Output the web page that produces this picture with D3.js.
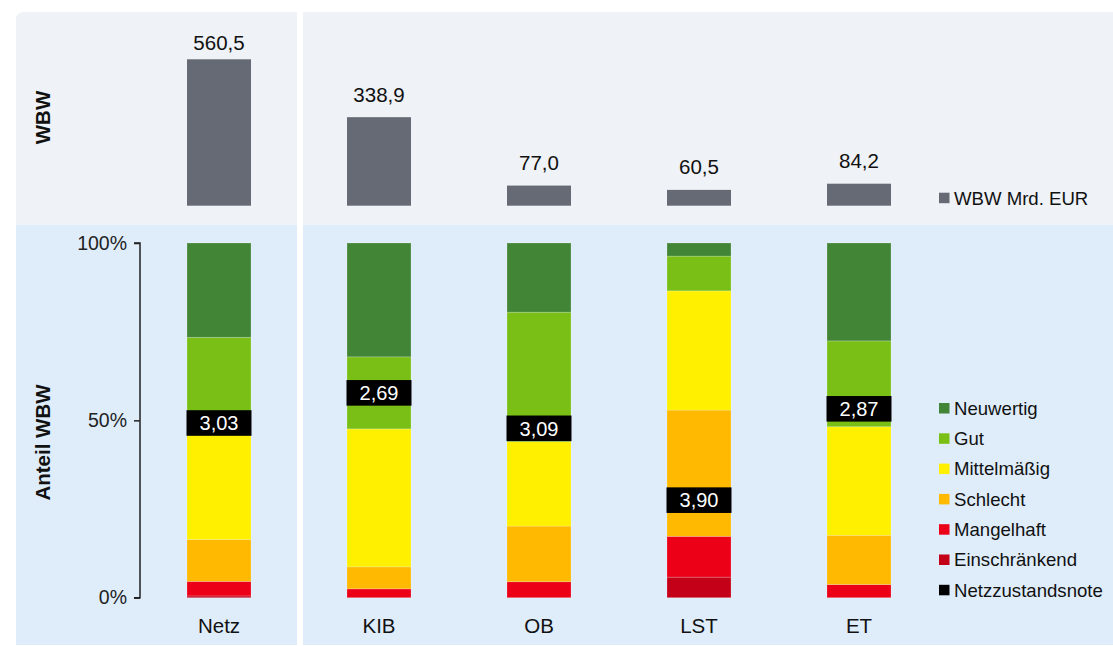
<!DOCTYPE html>
<html>
<head>
<meta charset="utf-8">
<script src="https://cdn.jsdelivr.net/npm/d3@7"></script>
<style>
  body { margin: 0; background: #fff; }
  svg { display: block; font-family: "Liberation Sans", Arial, sans-serif; }
</style>
</head>
<body>
<svg></svg>
<script>
var width = 1113,
    height = 646;

// data
var categories = ["Netz", "KIB", "OB", "LST", "ET"];
var wbw = [560.5, 338.9, 77.0, 60.5, 84.2];
var noten = [3.03, 2.69, 3.09, 3.90, 2.87];

// Anteile in % (von unten nach oben gestapelt)
var einschraenkend = [0.5, 0, 0, 5.8, 0];
var mangelhaft = [4.1, 2.5, 4.5, 11.5, 3.7];
var schlecht = [11.8, 6.2, 15.7, 35.6, 13.9];
var mittelmaessig = [29.5, 38.9, 23.8, 33.6, 30.6];
var gut = [27.5, 20.3, 36.5, 9.8, 24.2];
var neuwertig = [26.6, 32.1, 19.5, 3.7, 27.6];

var klassen = ["Einschränkend", "Mangelhaft", "Schlecht", "Mittelmäßig", "Gut", "Neuwertig"];
var klassenWerte = [einschraenkend, mangelhaft, schlecht, mittelmaessig, gut, neuwertig];
var yTicks = [0, 50, 100];

var farben = {
  "Neuwertig": "#428536",
  "Gut": "#7abf16",
  "Mittelmäßig": "#fff000",
  "Schlecht": "#ffb900",
  "Mangelhaft": "#ec0018",
  "Einschränkend": "#c30018",
  "Netzzustandsnote": "#000000"
};

var svg = d3.select("svg")
    .attr("width", width)
    .attr("height", height);

// backgrounds
svg.append("path")
    .attr("d", "M16,225 V20 Q16,12 24,12 H1113 V225 Z")
    .attr("fill", "#eff2f6");
svg.append("rect")
    .attr("x", 16).attr("y", 225)
    .attr("width", width - 16).attr("height", 420)
    .attr("fill", "#dfedfb");
svg.append("rect")
    .attr("x", 297).attr("y", 0)
    .attr("width", 6).attr("height", height)
    .attr("fill", "#fff");

var x = d3.scaleBand()
    .domain(categories)
    .range([139, 939])
    .paddingInner(0.6)
    .paddingOuter(0.3);

var yTop = d3.scaleLinear()
    .domain([0, 560.5])
    .range([205.7, 59.3]);

var y = d3.scaleLinear()
    .domain([0, 100])
    .range([597.7, 243]);

// Netzzustandsnote 1 (oben) bis 5 (unten)
var yNote = d3.scaleLinear()
    .domain([1, 5])
    .range([243, 597.7]);

// top bars: WBW
var topData = categories.map((c, i) => ({ cat: c, v: wbw[i] }));

svg.append("g").selectAll("rect")
    .data(topData)
    .enter().append("rect")
    .attr("x", d => x(d.cat))
    .attr("y", d => yTop(d.v))
    .attr("width", x.bandwidth())
    .attr("height", d => yTop(0) - yTop(d.v))
    .attr("fill", "#666a74");

// value labels, kept inside the panel
svg.append("g").selectAll("text")
    .data(topData)
    .enter().append("text")
    .attr("x", d => x(d.cat) + x.bandwidth() / 2)
    .attr("y", d => Math.max(yTop(d.v) - 15.5, 49.5))
    .attr("text-anchor", "middle")
    .attr("font-size", 20.5)
    .attr("fill", "#111")
    .text(d => d3.format(".1f")(d.v).replace(".", ","));

// stacked bars
var rows = categories.map((c, i) => {
  var r = { cat: c };
  klassen.forEach((k, j) => { r[k] = klassenWerte[j][i]; });
  return r;
});

var series = d3.stack().keys(klassen)(rows);

svg.append("g").selectAll("g")
    .data(series)
    .enter().append("g")
    .attr("fill", d => farben[d.key])
    .selectAll("rect")
    .data(d => d)
    .enter().append("rect")
    .attr("x", d => x(d.data.cat))
    .attr("y", d => y(d[1]))
    .attr("width", x.bandwidth())
    .attr("height", d => y(d[0]) - y(d[1]))
    .attr("stroke", "rgba(255,255,255,0.25)")
    .attr("stroke-width", 0.8);

// Netzzustandsnote labels
var noteData = categories.map((c, i) => ({ cat: c, n: noten[i] }));
var noteG = svg.append("g").selectAll("g")
    .data(noteData)
    .enter().append("g")
    .attr("transform", d => "translate(" + [x(d.cat) + x.bandwidth() / 2, yNote(d.n)] + ")");

noteG.append("rect")
    .attr("x", -x.bandwidth() / 2 - 0.5)
    .attr("y", -12.8)
    .attr("width", x.bandwidth() + 1)
    .attr("height", 25.6)
    .attr("fill", "#000");

noteG.append("text")
    .attr("text-anchor", "middle")
    .attr("y", 7.2)
    .attr("font-size", 20)
    .attr("fill", "#fff")
    .text(d => d3.format(".2f")(d.n).replace(".", ","));

// y axis of the lower panel
var axis = svg.append("g")
    .attr("transform", "translate(140,0)")
    .call(d3.axisLeft(y).tickValues(yTicks).tickSize(6).tickFormat(d => d + "%"));

axis.select(".domain")
    .attr("d", "M-6," + y(100) + "H0V" + y(0) + "H-6")
    .attr("stroke", "#222")
    .attr("stroke-width", 1.5);
axis.selectAll(".tick line").attr("stroke", "#222").attr("stroke-width", 1.5);
axis.selectAll(".tick text")
    .attr("x", -13)
    .attr("font-size", 19.5)
    .attr("font-family", "Liberation Sans, Arial, sans-serif")
    .attr("fill", "#222");

// category labels
svg.append("g").selectAll("text")
    .data(categories)
    .enter().append("text")
    .attr("x", d => x(d) + x.bandwidth() / 2)
    .attr("y", 633)
    .attr("text-anchor", "middle")
    .attr("font-size", 20.5)
    .attr("fill", "#111")
    .text(d => d);

// axis titles
svg.append("text")
    .attr("transform", "translate(50,117.5) rotate(-90)")
    .attr("text-anchor", "middle")
    .attr("font-size", 20.5)
    .attr("font-weight", "bold")
    .attr("fill", "#111")
    .text("WBW");

svg.append("text")
    .attr("transform", "translate(50,442.5) rotate(-90)")
    .attr("text-anchor", "middle")
    .attr("font-size", 20.5)
    .attr("font-weight", "bold")
    .attr("fill", "#111")
    .text("Anteil WBW");

// legends
var topLegend = svg.append("g").attr("transform", "translate(939,198)");
topLegend.append("rect")
    .attr("x", 0).attr("y", -5.3)
    .attr("width", 10.5).attr("height", 10.5)
    .attr("fill", "#666a74");
topLegend.append("text")
    .attr("x", 15).attr("y", 6.5)
    .attr("font-size", 18.6)
    .attr("fill", "#111")
    .text("WBW Mrd. EUR");

var legendItems = klassen.slice().reverse().concat(["Netzzustandsnote"]);
var legend = svg.append("g").selectAll("g")
    .data(legendItems)
    .enter().append("g")
    .attr("transform", (d, i) => "translate(939," + (408.3 + i * 30.3) + ")");

legend.append("rect")
    .attr("x", 0).attr("y", -5.3)
    .attr("width", 10.5).attr("height", 10.5)
    .attr("fill", d => farben[d]);

legend.append("text")
    .attr("x", 15).attr("y", 6.5)
    .attr("font-size", 18.6)
    .attr("fill", "#111")
    .text(d => d);
</script>
</body>
</html>
